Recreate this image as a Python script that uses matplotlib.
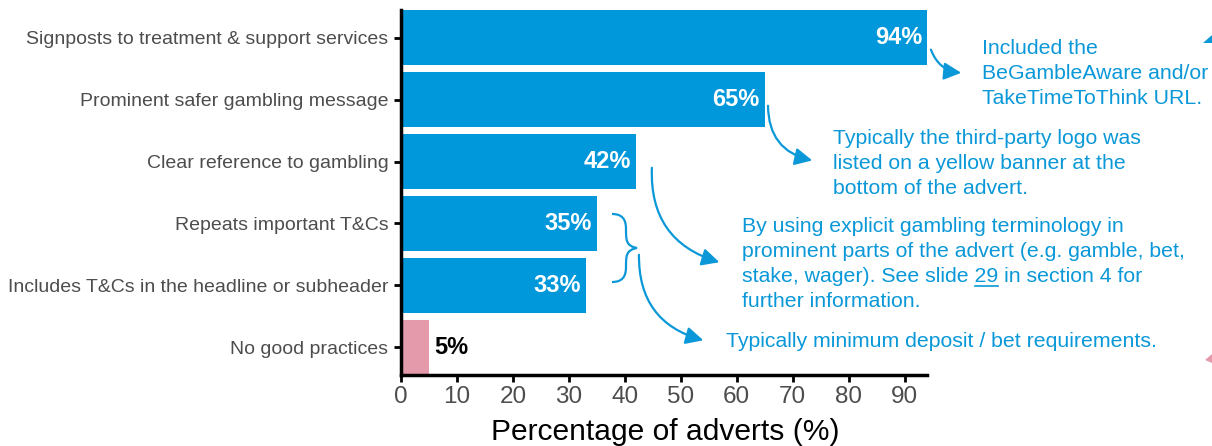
import matplotlib
matplotlib.use("Agg")
import matplotlib.pyplot as plt
from matplotlib.patches import FancyArrowPatch, PathPatch, Polygon
from matplotlib.path import Path

plt.rcParams['font.family'] = ['Liberation Sans', 'DejaVu Sans']

categories = [
    "Signposts to treatment & support services",
    "Prominent safer gambling message",
    "Clear reference to gambling",
    "Repeats important T&Cs",
    "Includes T&Cs in the headline or subheader",
    "No good practices",
]
values = [94, 65, 42, 35, 33, 5]
xticks = [0, 10, 20, 30, 40, 50, 60, 70, 80, 90]
xlabel = "Percentage of adverts (%)"

note1 = ["Included the", "BeGambleAware and/or", "TakeTimeToThink URL."]
note2 = ["Typically the third-party logo was", "listed on a yellow banner at the",
         "bottom of the advert."]
note3 = ["By using explicit gambling terminology in",
         "prominent parts of the advert (e.g. gamble, bet,",
         "stake, wager). See slide 29 in section 4 for",
         "further information."]
note4 = ["Typically minimum deposit / bet requirements."]

BLUE = "#0098DB"
PINK = "#E49AAA"
ANN = "#0A98D8"
bar_colors = [BLUE] * 5 + [PINK]

W, H = 1212, 446
fig = plt.figure(figsize=(W / 100, H / 100), dpi=100)
ax = fig.add_axes([401 / W, 1 - 375 / H, (927 - 401) / W, (375 - 10) / H])

ypos = list(range(len(categories)))
ax.barh(ypos, values, height=0.89, color=bar_colors)
ax.set_ylim(5.445, -0.445)
ax.set_xlim(0, 94)
ax.set_yticks(ypos)
ax.set_yticklabels(categories, fontsize=14, color="#4d4d4d")
ax.set_xticks(xticks)
ax.set_xticklabels([str(t) for t in xticks], fontsize=17.5, color="#4d4d4d")
ax.set_xlabel(xlabel, fontsize=21.6, color="black")
ax.xaxis.set_label_coords((665 - 401) / 526, -(440 - 375) / 365)
ax.xaxis.label.set_va("baseline")
for s in ["top", "right"]:
    ax.spines[s].set_visible(False)
for s in ["left", "bottom"]:
    ax.spines[s].set_linewidth(2.5)
    ax.spines[s].set_color("black")
ax.tick_params(axis="both", length=5, width=2, color="black")
ax.tick_params(axis="y", pad=4)
ax.tick_params(axis="x", pad=3)

for y, v in zip(ypos, values):
    if v > 10:
        ax.text(v - 0.9, y, f"{v}%", ha="right", va="center", color="white",
                fontsize=17, fontweight="bold")
    else:
        ax.text(v + 1.0, y, f"{v}%", ha="left", va="center", color="black",
                fontsize=17, fontweight="bold")

# overlay in pixel coordinates for annotations
ov = fig.add_axes([0, 0, 1, 1], facecolor="none")
ov.set_xlim(0, W)
ov.set_ylim(H, 0)
ov.axis("off")

def arrow(p0, p1, rad):
    a = FancyArrowPatch(p0, p1, connectionstyle=f"arc3,rad={rad}",
                        arrowstyle="-|>,head_length=7,head_width=3.5",
                        color=ANN, lw=1.6, mutation_scale=1.5)
    ov.add_patch(a)

fs = 15.3

def block(x, baselines, lines):
    out = []
    for b, t in zip(baselines, lines):
        out.append(ov.text(x, b, t, color=ANN, fontsize=fs, va="baseline", ha="left"))
    return out

block(982, [54, 79, 104], note1)
arrow((930, 47), (964, 73), 0.35)

block(833, [144, 169, 194], note2)
arrow((768, 103), (815, 161), 0.42)

block(742, [232, 257, 282, 307], note3)
arrow((652, 165), (722, 263), 0.4)

block(726, [347], note4)
arrow((639, 252), (706, 341), 0.4)

# curly brace
verts = [(612, 214), (622, 214), (626, 219), (626, 229),
         (626, 240), (626, 246), (637, 248),
         (626, 250), (626, 256), (626, 267),
         (626, 277), (622, 282), (612, 282)]
codes = [Path.MOVETO] + [Path.CURVE4] * 12
ov.add_patch(PathPatch(Path(verts, codes), fill=False, edgecolor=ANN, lw=1.6))

# underline "29"
fig.canvas.draw()
r = fig.canvas.get_renderer()
line3 = note3[2]
idx = line3.index("29")
full = ov.text(742, 0, line3, fontsize=fs, alpha=0)
suf = ov.text(742, 0, line3[idx:], fontsize=fs, alpha=0)
num = ov.text(742, 0, "29", fontsize=fs, alpha=0)
w_full = full.get_window_extent(r).width
w_suf = suf.get_window_extent(r).width
w_num = num.get_window_extent(r).width
x0 = 742 + w_full - w_suf
ov.plot([x0, x0 + w_num], [285.5, 285.5], color=ANN, lw=1.2)

# clipped decorative triangles on right edge
ov.add_patch(Polygon([[1203, 43], [1212, 35], [1212, 43]], color=ANN, lw=0))
ov.add_patch(Polygon([[1205, 360], [1212, 354], [1212, 363]], color=PINK, lw=0))

fig.savefig("out.png", dpi=100)
